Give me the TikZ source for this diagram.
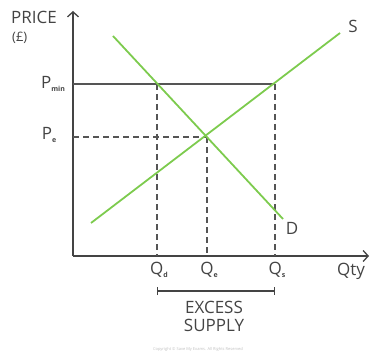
\documentclass[tikz,border=0pt]{standalone}
\usepackage{fontspec}
\setmainfont{Open Sans}
\usepackage{tikz}
\usetikzlibrary{arrows.meta,positioning,calc}
\definecolor{curveGreen}{HTML}{7DCB4E}
\definecolor{ink}{HTML}{444444}
\definecolor{guide}{HTML}{555555}
\newcommand{\sub}[1]{\raisebox{-2.5pt}{\fontsize{7}{7}\selectfont\bfseries #1}}

\begin{document}
\begin{tikzpicture}[x=1pt,y=-1pt,font=\fontsize{17}{19}\selectfont,
  axis/.style={draw=ink,line width=1.3pt},
  curve/.style={draw=curveGreen,line width=1.8pt},
  floorline/.style={draw=guide,line width=1.5pt},
  guideline/.style={draw=guide,line width=1.3pt,dash pattern=on 6pt off 4pt},
  lbl/.style={text=ink,inner sep=0pt}]
\useasboundingbox (0,0) rectangle (371,355);
% axes
\coordinate (O) at (73,256);
\coordinate (ytop) at (73,11);
\coordinate (xend) at (369,256);
\draw[axis,-{Straight Barb[length=5pt,width=11pt]}] (O) -- (ytop);
\draw[axis,-{Straight Barb[length=5pt,width=11pt]}] (O) -- (xend);
\node[lbl,anchor=west] (price) at (11,17) {PRICE};
\node[lbl,anchor=west,font=\fontsize{13}{15}\selectfont] (pound) at (12,38) {(£)};
\node[lbl,anchor=west] (qty) at (337,271) {Qty};
% key points
\coordinate (pmin) at (73,84);
\coordinate (dmin) at (157,84);
\coordinate (smin) at (275,84);
\coordinate (pe) at (73,137);
\coordinate (eq) at (207,137);
\coordinate (qd) at (157,256);
\coordinate (qe) at (207,256);
\coordinate (qs) at (275,256);
% minimum price and guides
\draw[floorline] (pmin) -- (smin);
\draw[guideline] (pe) -- (eq);
\draw[guideline] (dmin) -- (qd);
\draw[guideline] (eq) -- (qe);
\draw[guideline] (smin) -- (qs);
% demand and supply
\coordinate (dtop) at (113,36);
\coordinate (dbot) at (283,219);
\coordinate (sbot) at (91,223);
\coordinate (stop) at (340,33);
\draw[curve] (dtop) -- (dbot);
\draw[curve] (sbot) -- (stop);
\node[lbl] (slabel) at (353,26) {S};
\node[lbl] (dlabel) at (292,228) {D};
% axis labels
\node[lbl] (pminlabel) at (53,84) {P\sub{min}};
\node[lbl] (pelabel) at (49,135) {P\sub{e}};
\node[lbl] (qdlabel) at (159,270) {Q\sub{d}};
\node[lbl] (qelabel) at (209,270) {Q\sub{e}};
\node[lbl] (qslabel) at (277,270) {Q\sub{s}};
% excess supply
\coordinate (exl) at (157,291);
\coordinate (exr) at (275,291);
\draw[draw=ink,line width=1.3pt,{Bar[width=8pt]}-{Bar[width=8pt]}] (exl) -- (exr);
\node[lbl,align=center,font=\fontsize{17}{18}\selectfont] (excess) at (214,316) {EXCESS\\SUPPLY};
\node[text=black!25,font=\fontsize{4}{5}\selectfont] (copy) at (198,349) {Copyright © Save My Exams. All Rights Reserved};
\end{tikzpicture}
\end{document}
